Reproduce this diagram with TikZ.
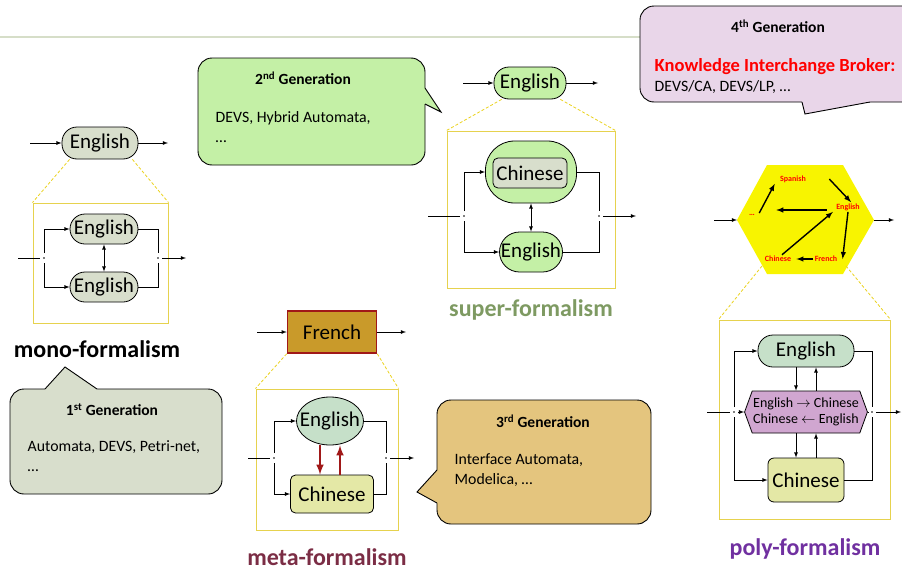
\documentclass[tikz,border=0pt]{standalone}
\usepackage{fontspec}
\setmainfont{Carlito}
\usetikzlibrary{shapes.geometric, shapes.symbols}
\definecolor{grayg}{HTML}{D8DECC}
\definecolor{liteg}{HTML}{C4F0A6}
\definecolor{mint}{HTML}{C6E0C9}
\definecolor{paley}{HTML}{E4E8A6}
\definecolor{plum}{HTML}{D0A6D0}
\definecolor{tancol}{HTML}{E4C57E}
\definecolor{lav}{HTML}{E9D6E9}
\definecolor{goldcol}{HTML}{C99A2A}
\definecolor{darkred}{HTML}{A01818}
\definecolor{frameyel}{HTML}{E6D24E}
\definecolor{dashyel}{HTML}{EAD21E}
\definecolor{headline}{HTML}{D6DEC8}
\definecolor{supercol}{HTML}{7E9A62}
\definecolor{metacol}{HTML}{7B2D45}
\definecolor{polycol}{HTML}{7030A0}
\definecolor{hexyel}{HTML}{F8F400}
\tikzset{>=latex}
\tikzset{
	pill/.style = {draw, rounded corners=15pt, minimum height=32pt, inner sep=1pt, font=\fontsize{21}{24}\selectfont},
	box/.style = {draw, rounded corners=5pt, inner sep=1pt, font=\fontsize{21}{24}\selectfont},
	frame/.style = {draw=frameyel, line width=1pt, inner sep=0pt},
	zoomline/.style = {draw=dashyel, dash pattern=on 3pt off 2pt, line width=0.8pt},
	bubble/.style = {draw, line width=0.9pt, rounded corners=14pt},
	gentitle/.style = {font=\bfseries\fontsize{15.5}{18}\selectfont},
	genbody/.style = {anchor=west, align=left, font=\fontsize{15.8}{20}\selectfont},
	formlabel/.style = {font=\bfseries\fontsize{24}{28}\selectfont},
	kib/.style = {text=red, font=\bfseries\fontsize{8}{9}\selectfont, inner sep=1pt},
	kibarrow/.style = {->, line width=1.4pt}
}

\begin{document}
\begin{tikzpicture}[x=1pt, y=-1pt, line width=0.8pt]
	\clip (0,0) rectangle (902,570);
	\draw[headline, line width=1.5pt] (0,37) -- (640,37);

	\filldraw[bubble, fill=grayg] (10,389) rectangle (222,494);
	\fill[grayg] (45,393) -- (45,389) -- (65,367) -- (97,389) -- (97,393) -- cycle;
	\draw[line width=0.9pt] (45,389) -- (65,367) -- (97,389);
	\node[gentitle] (gen1) at (112,410) {1\textsuperscript{st} Generation};
	\node[genbody] (gen1text) at (24,456) {Automata, DEVS, Petri-net,\\…};

	\filldraw[bubble, fill=liteg] (198,58) rectangle (425,165);
	\fill[liteg] (421,88) -- (425,88) -- (441,112) -- (425,104) -- (421,104) -- cycle;
	\draw[line width=0.9pt] (425,88) -- (441,112) -- (425,104);
	\node[gentitle] (gen2) at (303,78) {2\textsuperscript{nd} Generation};
	\node[genbody] (gen2text) at (212,127) {DEVS, Hybrid Automata,\\…};

	\filldraw[bubble, fill=tancol] (437,400) rectangle (651,524);
	\fill[tancol] (441,470) -- (437,470) -- (417,492) -- (437,503) -- (441,503) -- cycle;
	\draw[line width=0.9pt] (437,470) -- (417,492) -- (437,503);
	\node[gentitle] (gen3) at (543,421) {3\textsuperscript{rd} Generation};
	\node[genbody] (gen3text) at (451,470) {Interface Automata,\\Modelica, …};

	\filldraw[bubble, fill=lav] (640,6) rectangle (925,102);
	\fill[lav] (802,98) -- (802,102) -- (805,114) -- (870,102) -- (870,98) -- cycle;
	\draw[line width=0.9pt] (802,102) -- (805,114) -- (870,102);
	\node[gentitle] (gen4) at (778,26) {4\textsuperscript{th} Generation};
	\node[anchor=west, text=red, font=\bfseries\fontsize{18.5}{20}\selectfont] (gen4kib) at (651,67) {Knowledge Interchange Broker:};
	\node[genbody] (gen4text) at (651,87) {DEVS/CA, DEVS/LP, …};

	\node[pill, fill=grayg, minimum width=76pt] (monotop) at (100,143) {English};
	\coordinate (monoin) at (30,143);
	\coordinate (monoout) at (168,143);
	\draw[->] (monoin) -- (monotop);
	\draw[->] (monotop) -- (monoout);
	\node[frame, minimum width=135pt, minimum height=120pt] (monobox) at (100.5,263) {};
	\draw[zoomline] ([xshift=8pt]monotop.south west) -- (monobox.north west);
	\draw[zoomline] ([xshift=-6pt]monotop.south east) -- (monobox.north east);
	\node[pill, fill=grayg, minimum width=68pt, minimum height=30pt] (monoa) at (104,229) {English};
	\node[pill, fill=grayg, minimum width=68pt, minimum height=30pt] (monob) at (104,287) {English};
	\draw[<->] (monoa) -- (monob);
	\coordinate (monoin2) at (18,258);
	\coordinate (monojl) at (44,258);
	\coordinate (monojr) at (158,258);
	\coordinate (monoout2) at (186,258);
	\draw (monoin2) -- ([xshift=-4pt]monojl);
	\draw[->] ([yshift=5pt]monojl) |- (monoa);
	\draw[->] ([yshift=-5pt]monojl) |- (monob);
	\draw (monoa) -| ([yshift=5pt]monojr);
	\draw (monob) -| ([yshift=-5pt]monojr);
	\draw[->] ([xshift=4pt]monojr) -- (monoout2);
	\fill (monojl) circle (0.8);
	\fill (monojr) circle (0.8);
	\node[formlabel] (monolabel) at (97,349) {mono-formalism};

	\node[pill, fill=liteg, minimum width=72pt] (supertop) at (530,83) {English};
	\coordinate (superin) at (463,83);
	\coordinate (superout) at (598,83);
	\draw[->] (superin) -- (supertop);
	\draw[->] (supertop) -- (superout);
	\node[frame, minimum width=168pt, minimum height=157pt] (superbox) at (531,209.5) {};
	\draw[zoomline] ([xshift=8pt]supertop.south west) -- (superbox.north west);
	\draw[zoomline] ([xshift=-6pt]supertop.south east) -- (superbox.north east);
	\node[draw, fill=liteg, rounded corners=29pt, minimum width=91pt, minimum height=62pt] (superouter) at (531,172) {};
	\node[box, fill=grayg, minimum width=74pt, minimum height=30pt] (superchin) at (530,173) {Chinese};
	\node[pill, fill=liteg, minimum width=63pt, minimum height=40pt, rounded corners=20pt, inner sep=0pt] (supereng) at (531,252) {English};
	\draw[<->] (superouter) -- (supereng);
	\coordinate (superin2) at (428,216);
	\coordinate (superjl) at (464,216);
	\coordinate (superjr) at (599,216);
	\coordinate (superout2) at (636,216);
	\draw (superin2) -- ([xshift=-4pt]superjl);
	\draw[->] ([yshift=5pt]superjl) |- (superouter);
	\draw[->] ([yshift=-5pt]superjl) |- (supereng);
	\draw (superouter) -| ([yshift=5pt]superjr);
	\draw (supereng) -| ([yshift=-5pt]superjr);
	\draw[->] ([xshift=4pt]superjr) -- (superout2);
	\fill (superjl) circle (0.8);
	\fill (superjr) circle (0.8);
	\node[formlabel, text=supercol] (superlabel) at (531,310) {super-formalism};

	\node[draw=darkred, line width=1.5pt, fill=goldcol, minimum width=89pt, minimum height=42pt, font=\fontsize{21}{24}\selectfont] (metafr) at (332,332) {French};
	\coordinate (metain) at (257,332);
	\coordinate (metaout) at (406,332);
	\draw[->] (metain) -- (metafr);
	\draw[->] (metafr) -- (metaout);
	\node[frame, minimum width=142pt, minimum height=141pt] (metabox) at (327,459.5) {};
	\draw[zoomline] (metafr.south west) -- (metabox.north west);
	\draw[zoomline] (metafr.south east) -- (metabox.north east);
	\node[draw, ellipse, fill=mint, minimum width=67pt, minimum height=48pt, inner xsep=-8pt, inner ysep=0pt, font=\fontsize{21}{24}\selectfont] (metaeng) at (330,421) {English};
	\node[box, fill=paley, minimum width=83pt, minimum height=38pt] (metachin) at (332,494) {Chinese};
	\draw[->, darkred, line width=2.4pt] ([xshift=-12pt]metachin.north |- metaeng.south) -- ([xshift=-12pt]metachin.north);
	\draw[->, darkred, line width=2.4pt] ([xshift=8pt]metachin.north) -- ([xshift=8pt]metachin.north |- metaeng.south);
	\coordinate (metain2) at (248,458);
	\coordinate (metajl) at (274,458);
	\coordinate (metajr) at (386,458);
	\coordinate (metaout2) at (414,458);
	\draw (metain2) -- ([xshift=-4pt]metajl);
	\draw[->] ([yshift=5pt]metajl) |- (metaeng);
	\draw[->] ([yshift=-5pt]metajl) |- (metachin);
	\draw (metaeng) -| ([yshift=5pt]metajr);
	\draw (metachin) -| ([yshift=-5pt]metajr);
	\draw[->] ([xshift=4pt]metajr) -- (metaout2);
	\fill (metajl) circle (0.8);
	\fill (metajr) circle (0.8);
	\node[formlabel, text=metacol] (metalabel) at (327,557) {meta-formalism};

	\fill[hexyel] (737,220) -- (767,165) -- (843,165) -- (874,220) -- (843,274) -- (767,274) -- cycle;
	\coordinate (hexl) at (737,220);
	\coordinate (hexr) at (874,220);
	\coordinate (hexbl) at (762,266);
	\coordinate (hexbr) at (846,266);
	\coordinate (polyin) at (714,220);
	\coordinate (polyout) at (894,220);
	\draw[->] (polyin) -- (hexl);
	\draw[->] (hexr) -- (polyout);
	\node[kib] (sp) at (793,179) {Spanish};
	\node[kib] (en) at (848,207) {English};
	\node[kib] (ch) at (778,259) {Chinese};
	\node[kib] (fr) at (826,259) {French};
	\node[kib] (dots) at (752,215) {…};
	\draw[kibarrow] ([xshift=3pt]dots.north east) -- ([xshift=-4pt]sp.south west);
	\draw[kibarrow] ([xshift=22pt]sp.east) -- ([xshift=3pt]en.north);
	\draw[kibarrow] ([xshift=-8pt,yshift=-3pt]en.west) -- ([xshift=20pt,yshift=5pt]dots.east);
	\draw[kibarrow] (en.south) -- ([xshift=4pt]fr.east);
	\draw[kibarrow] (fr.west) -- ([xshift=4pt]ch.east);
	\draw[kibarrow] ([xshift=4pt]ch.north) -- ([xshift=-2pt]en.south west);
	\node[frame, minimum width=171pt, minimum height=199pt] (polybox) at (804.5,419.5) {};
	\draw[zoomline] (hexbl) -- (polybox.north west);
	\draw[zoomline] (hexbr) -- (polybox.north east);
	\node[pill, fill=mint, minimum width=96pt] (polyeng) at (806,351) {English};
	\node[signal, signal to=west and east, signal pointer angle=140, draw, fill=plum, minimum width=114pt, minimum height=42pt, inner sep=1pt, align=center, font=\fontsize{14}{16}\selectfont] (polybroker) at (806,412) {English $\rightarrow$ Chinese\\Chinese $\leftarrow$ English};
	\node[box, fill=paley, minimum width=76pt, minimum height=44pt, rounded corners=6pt] (polychin) at (806,480) {Chinese};
	\draw[->] ([xshift=-10pt]polyeng.south) -- ([xshift=-10pt]polyeng.south |- polybroker.north);
	\draw[->] ([xshift=10pt]polyeng.south |- polybroker.north) -- ([xshift=10pt]polyeng.south);
	\draw[->] ([xshift=-10pt]polychin.north |- polybroker.south) -- ([xshift=-10pt]polychin.north);
	\draw[->] ([xshift=10pt]polychin.north) -- ([xshift=10pt]polychin.north |- polybroker.south);
	\coordinate (polyin2) at (707,412);
	\coordinate (polyjl) at (734,412);
	\coordinate (polyjr) at (872,412);
	\coordinate (polyout2) at (901,412);
	\draw (polyin2) -- ([xshift=-4pt]polyjl);
	\draw[->] ([xshift=4pt]polyjl) -- (polybroker);
	\draw[->] ([yshift=5pt]polyjl) |- (polyeng);
	\draw[->] ([yshift=-5pt]polyjl) |- (polychin);
	\draw (polyeng) -| ([yshift=5pt]polyjr);
	\draw (polychin) -| ([yshift=-5pt]polyjr);
	\draw (polybroker) -- ([xshift=-4pt]polyjr);
	\draw[->] ([xshift=4pt]polyjr) -- (polyout2);
	\fill (polyjl) circle (0.8);
	\fill (polyjr) circle (0.8);
	\node[formlabel, text=polycol] (polylabel) at (805,549) {poly-formalism};
\end{tikzpicture}
\end{document}
